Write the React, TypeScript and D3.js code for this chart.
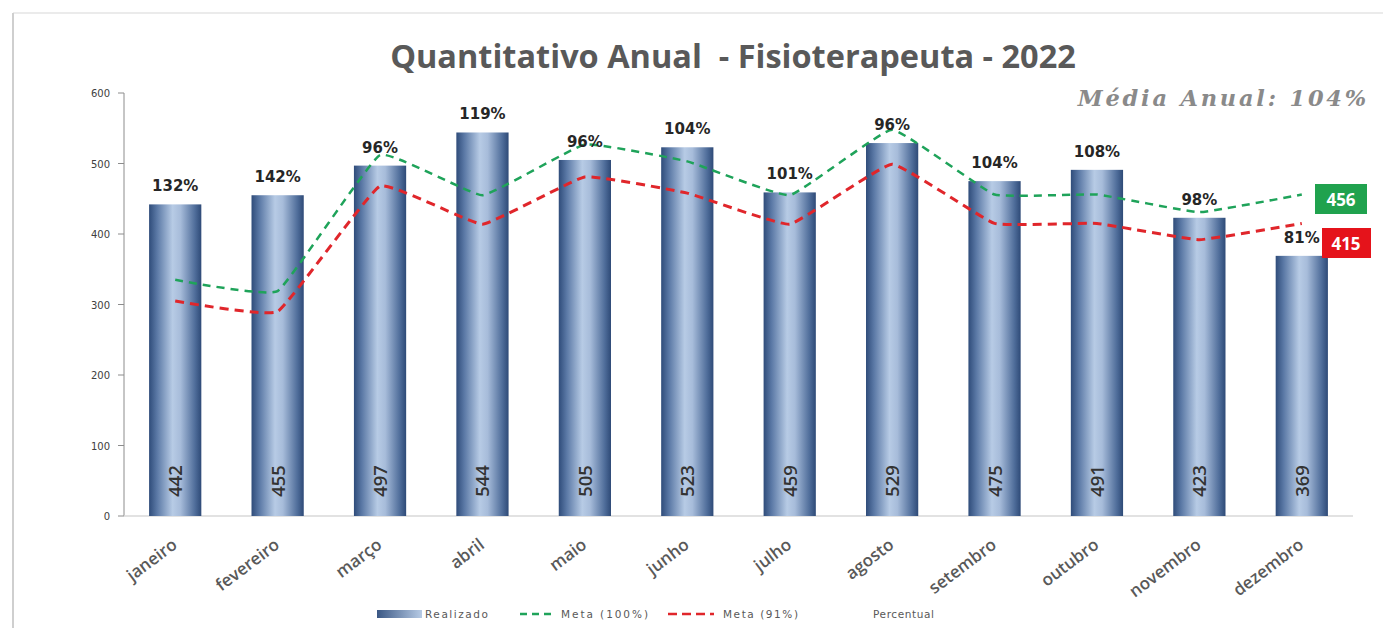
import React from "react";
import * as d3 from "d3";

const months = ["janeiro","fevereiro","março","abril","maio","junho","julho","agosto","setembro","outubro","novembro","dezembro"];
const realizado = [442,455,497,544,505,523,459,529,475,491,423,369];
const meta100 = [335,319,512,455,527,503,455,548,456,456,431,456];
const meta91 = [305,290,468,414,481,458,414,499,415,415,392,415];
const percentual = ["132%","142%","96%","119%","96%","104%","101%","96%","104%","108%","98%","81%"];
const yTicks = [0,100,200,300,400,500,600];
const title = "Quantitativo Anual  - Fisioterapeuta - 2022";
const mediaAnual = "Média Anual: 104%";
const lastMeta100 = "456";
const lastMeta91 = "415";
const legendLabels = ["Realizado", "Meta (100%)", "Meta (91%)", "Percentual"];

const W = 1383, H = 628;
const left = 124, right = 1353, top = 93, bottom = 516;

export default function App() {
  const x = d3.scaleBand<string>().domain(months).range([left, right]).paddingInner(0.49).paddingOuter(0.245);
  const xc = (m: string) => (x(m) as number) + x.bandwidth() / 2;
  const y = d3.scaleLinear().domain([0, 600]).range([bottom, top]);
  const line = d3.line<number>().x((_, i) => xc(months[i])).y(v => y(v)).curve(d3.curveCardinal.tension(0.7));
  const font = "'Open Sans', 'DejaVu Sans', sans-serif";
  const legFont = "'DejaVu Sans', sans-serif";
  return (
    <svg width={W} height={H} style={{ position: "absolute", left: 0, top: 0 }} xmlns="http://www.w3.org/2000/svg">
      <defs>
        <linearGradient id="barGrad" x1="0" x2="1" y1="0" y2="0">
          <stop offset="0%" stopColor="#2f4c7a" />
          <stop offset="15%" stopColor="#5a78a5" />
          <stop offset="45%" stopColor="#b7cbe5" />
          <stop offset="60%" stopColor="#a7bcda" />
          <stop offset="88%" stopColor="#4f6d9a" />
          <stop offset="100%" stopColor="#2e4a77" />
        </linearGradient>
        <linearGradient id="legGrad" x1="0" x2="1" y1="0" y2="0">
          <stop offset="0%" stopColor="#3a5784" />
          <stop offset="100%" stopColor="#b7cbe5" />
        </linearGradient>
      </defs>
      <rect x={0} y={0} width={W} height={H} fill="#ffffff" />
      <line x1={13} y1={13} x2={W} y2={13} stroke="#e4e4e4" strokeWidth={1.5} />
      <line x1={13} y1={13} x2={13} y2={H} stroke="#cfcfcf" strokeWidth={2} />

      <text x={733} y={68} textAnchor="middle" fontFamily={font} fontWeight={700} fontSize={32.5} fill="#595959" style={{ whiteSpace: "pre" }}>{title}</text>
      <text x={1369} y={106} textAnchor="end" fontFamily="'DejaVu Serif', serif" fontWeight={700} fontStyle="italic" fontSize={22.5} letterSpacing={2.8} fill="#8a8a8a">{mediaAnual}</text>

      {/* y axis */}
      <line x1={left} y1={top} x2={left} y2={bottom} stroke="#8c8c8c" strokeWidth={1} />
      {yTicks.map(t => (
        <g key={t}>
          <line x1={left - 6} x2={left} y1={y(t)} y2={y(t)} stroke="#8c8c8c" />
          <text x={110} y={y(t) + 4} textAnchor="end" fontFamily={legFont} fontSize={10} fill="#404040">{t}</text>
        </g>
      ))}
      <line x1={left} y1={bottom} x2={right} y2={bottom} stroke="#d9d9d9" strokeWidth={1.5} />

      {/* bars */}
      {months.map((m, i) => (
        <g key={m}>
          <rect x={x(m)} y={y(realizado[i])} width={x.bandwidth()} height={bottom - y(realizado[i])} fill="url(#barGrad)" />
          <text transform={`translate(${xc(m) + 7},481) rotate(-90)`} textAnchor="middle" fontFamily={font} fontWeight={600} fontSize={18.5} fill="#333">{realizado[i]}</text>
        </g>
      ))}

      {/* lines */}
      <path d={line(meta91) as string} fill="none" stroke="#e0262b" strokeWidth={3} strokeDasharray="9,6" />
      <path d={line(meta100) as string} fill="none" stroke="#1fa35a" strokeWidth={2.5} strokeDasharray="8,6" />

      {/* percent labels */}
      {months.map((m, i) => (
        <text key={m} x={xc(m)} y={y(realizado[i]) - 13} textAnchor="middle" fontFamily={legFont} fontWeight={700} fontSize={15} fill="#262626">{percentual[i]}</text>
      ))}

      {/* x labels */}
      {months.map(m => (
        <text key={m} transform={`translate(${xc(m) + 3},547) rotate(-37)`} textAnchor="end" fontFamily={font} fontWeight={600} fontSize={17} fill="#595959">{m}</text>
      ))}

      {/* end labels */}
      <rect x={1315} y={184} width={52} height={30} fill="#20a24e" />
      <text x={1341} y={206} textAnchor="middle" fontFamily={font} fontWeight={700} fontSize={17} fill="#fff">{lastMeta100}</text>
      <rect x={1322} y={228} width={49} height={30} fill="#e5131b" />
      <text x={1346} y={250} textAnchor="middle" fontFamily={font} fontWeight={700} fontSize={17} fill="#fff">{lastMeta91}</text>

      {/* legend */}
      <rect x={377} y={610} width={45} height={8} fill="url(#legGrad)" />
      <text x={425} y={618} fontFamily={legFont} fontSize={10.5} textLength={63} lengthAdjust="spacing" fill="#595959">{legendLabels[0]}</text>
      <line x1={520} x2={553} y1={614} y2={614} stroke="#1fa35a" strokeWidth={2.5} strokeDasharray="7,5" />
      <text x={561} y={618} fontFamily={legFont} fontSize={10.5} textLength={87} lengthAdjust="spacing" fill="#595959">{legendLabels[1]}</text>
      <line x1={668} x2={714} y1={614} y2={614} stroke="#e0262b" strokeWidth={2.5} strokeDasharray="9,5" />
      <text x={723} y={618} fontFamily={legFont} fontSize={10.5} textLength={75} lengthAdjust="spacing" fill="#595959">{legendLabels[2]}</text>
      <text x={873} y={618} fontFamily={legFont} fontSize={10.5} textLength={61} lengthAdjust="spacing" fill="#595959">{legendLabels[3]}</text>
    </svg>
  );
}
